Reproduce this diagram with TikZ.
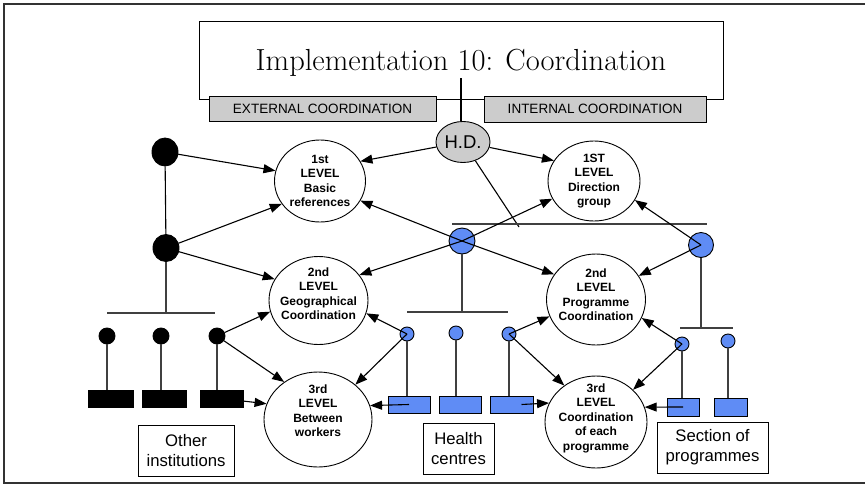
\documentclass[tikz,border=0pt]{standalone}
\usepackage{fontspec}
\newfontfamily\arial{Liberation Sans}
\usetikzlibrary{arrows.meta,shapes.geometric}
\definecolor{nodeblue}{RGB}{95,140,245}
\definecolor{boxgray}{RGB}{204,204,204}
\definecolor{framegray}{RGB}{50,50,50}
\begin{document}
\begin{tikzpicture}[x=1pt,y=-1pt,line width=0.9pt,
  conn/.style={line width=1.1pt,-{Triangle[length=12pt,width=9pt]}},
  plain/.style={line width=1.1pt},
  bar/.style={line width=1.1pt,draw=black!75},
  level/.style={draw,ellipse,fill=white,inner sep=0pt},
  lvltext/.style={font=\arial\bfseries\fontsize{12}{14.5}\selectfont,align=center},
  graybox/.style={draw,fill=boxgray,inner sep=0pt,font=\arial\fontsize{13.5}{16}\selectfont},
  textbox/.style={draw,fill=white,inner sep=0pt,align=center,font=\arial\fontsize{16.7}{20}\selectfont},
  bdot/.style={draw,circle,fill=black,inner sep=0pt,minimum size=16pt},
  bigbdot/.style={draw,ellipse,fill=black,inner sep=0pt},
  udot/.style={draw,circle,fill=nodeblue,inner sep=0pt,minimum size=14pt},
  bigudot/.style={draw,circle,fill=nodeblue,inner sep=0pt,minimum size=26pt},
  brect/.style={draw,fill=black,inner sep=0pt,minimum height=17pt},
  urect/.style={draw,fill=nodeblue,inner sep=0pt,minimum height=17pt}]
\useasboundingbox (0,0) rectangle (865,485);
\draw[line width=2pt,framegray] (870,3.5) -- (4,3.5) -- (4,483) -- (870,483);

% title and the two coordination headers
\node[draw,inner sep=0pt,minimum width=524pt,minimum height=78pt] (title) at (461,60) {};
\node[anchor=base,font=\fontsize{30.5}{32}\selectfont] (titletext) at (461,70) {Implementation 10: Coordination};
\node[graybox,minimum width=227pt,minimum height=25pt] (ext) at (322.5,108.5) {EXTERNAL COORDINATION};
\node[graybox,minimum width=222pt,minimum height=26pt] (int) at (595,109) {INTERNAL COORDINATION};

\node[draw,ellipse,fill=boxgray,inner sep=0pt,minimum width=54pt,minimum height=41pt,
  font=\arial\fontsize{18.5}{20}\selectfont] (hd) at (463,142) {H.D.};

% coordination levels
\node[level,minimum width=91pt,minimum height=82pt,
  label={[lvltext,name=l1bt]center:1st\\LEVEL\\Basic\\references}] (l1b) at (320,181) {};
\node[level,minimum width=92pt,minimum height=80pt,
  label={[lvltext,name=l1dt]center:1ST\\LEVEL\\Direction\\group}] (l1d) at (594,181) {};
\node[level,minimum width=99pt,minimum height=88pt,
  label={[lvltext,name=l2gt,yshift=7pt]center:2nd\\LEVEL\\Geographical\\Coordination}] (l2g) at (318.5,300.5) {};
\node[level,minimum width=99pt,minimum height=91pt,
  label={[lvltext,name=l2pt,yshift=5pt]center:2nd\\LEVEL\\Programme\\Coordination}] (l2p) at (596,299.5) {};
\node[level,minimum width=108pt,minimum height=95pt,
  label={[lvltext,name=l3wt,yshift=9pt]center:3rd\\LEVEL\\Between\\workers}] (l3w) at (318,419.5) {};
\node[level,minimum width=102pt,minimum height=92pt,
  label={[lvltext,name=l3pt,yshift=4pt]center:3rd\\LEVEL\\Coordination\\of each\\programme}] (l3p) at (596,422) {};

% other institutions
\node[bigbdot,minimum width=26pt,minimum height=28pt] (b1) at (165,152) {};
\node[bigbdot,minimum width=26pt,minimum height=27pt] (b2) at (166,248) {};
\node[bdot] (s1) at (107,336) {};
\node[bdot] (s2) at (161,336) {};
\node[bdot] (s3) at (217,336) {};
\node[brect,minimum width=45pt] (r1) at (110.5,398.5) {};
\node[brect,minimum width=44pt] (r2) at (164,398.5) {};
\node[brect,minimum width=43pt] (r3) at (221.5,398.5) {};
\node[textbox,minimum width=96pt,minimum height=51pt] (oth) at (186,450.5) {Other\\institutions};

% health centres
\node[bigudot] (B1) at (462,241) {};
\node[udot] (h1) at (407,334) {};
\node[udot] (h2) at (456,333) {};
\node[udot] (h3) at (509,334) {};
\node[urect,minimum width=42pt] (hr1) at (409,404.5) {};
\node[urect,minimum width=42pt] (hr2) at (460,404.5) {};
\node[urect,minimum width=43pt] (hr3) at (511.5,404.5) {};
\node[textbox,minimum width=71pt,minimum height=51pt] (hea) at (458.5,448.5) {Health\\centres};

% section of programmes
\node[bigudot,minimum size=25pt] (B2) at (701,245) {};
\node[udot] (c1) at (682,344) {};
\node[udot] (c2) at (728,341) {};
\node[urect,minimum width=32pt,minimum height=18pt] (sr1) at (683,407) {};
\node[urect,minimum width=33pt,minimum height=18pt] (sr2) at (730.5,407) {};
\node[textbox,minimum width=111pt,minimum height=51pt] (sec) at (712.5,447.5) {Section of\\programmes};

% bars and free ends
\coordinate (tl) at (461,78);
\coordinate (barAl) at (107,313);
\coordinate (barAr) at (215,313);
\coordinate (barBl) at (407,312);
\coordinate (barBr) at (508,312);
\coordinate (barCl) at (680,328);
\coordinate (barCr) at (733,328);
\coordinate (topl) at (452,224);
\coordinate (topr) at (707,224);
\coordinate (hdend) at (519,227);

\draw[plain] (tl) -- (tl |- hd.north);
\draw[plain] (hd) -- (hdend);
\draw[bar] (topl) -- (topr);
\draw[bar] (barAl) -- (barAr);
\draw[bar] (barBl) -- (barBr);
\draw[bar] (barCl) -- (barCr);
\draw[plain] (b1) -- (b2);
\draw[bar] (b2.south) -- (b2.south |- barAl);
\draw[bar] (B1.south) -- (B1.south |- barBl);
\draw[bar] (B2.south) -- (B2.south |- barCl);
\foreach \d/\r in {s1/r1,s2/r2,s3/r3,h1/hr1,h2/hr2,h3/hr3,c1/sr1,c2/sr2}
  \draw[bar] (\d.south) -- (\d.south |- \r.north);

% arrows into the levels
\draw[conn] (hd) -- (l1b.26);
\draw[conn] (hd) -- (l1d.153);
\draw[conn] (b1) -- (l1b.167);
\draw[conn] (b2) -- (l1b.211);
\draw[conn] (b2) -- (l2g.154);
\draw[conn] (B1.center) -- (l1b.334);
\draw[conn] (B1.center) -- (l2g.32);
\draw[conn] (B1.center) -- (l1d.203);
\draw[conn] (B1.center) -- (l2p.149);
\draw[conn] (B2.center) -- (l1d.335);
\draw[conn] (B2.center) -- (l2p.29);
\draw[conn] (s3) -- (l2g.193);
\draw[conn] (s3) -- (l3w.132);
\draw[conn] (r3.center) -- (l3w.163);
\draw[conn] (h1.center) -- (l2g.345);
\draw[conn] (h1.center) -- (l3w.43);
\draw[conn] (hr1.center) -- (l3w.15);
\draw[conn] (h3.center) -- (l2p.200);
\draw[conn] (h3.center) -- (l3p.131);
\draw[conn] ([xshift=10pt]hr3.center) -- (l3p.158);
\draw[conn] (c1.center) -- (l2p.338);
\draw[conn] (c1.center) -- (l3p.41);
\draw[conn] (sr1.center) -- (l3p.17);
\end{tikzpicture}
\end{document}
